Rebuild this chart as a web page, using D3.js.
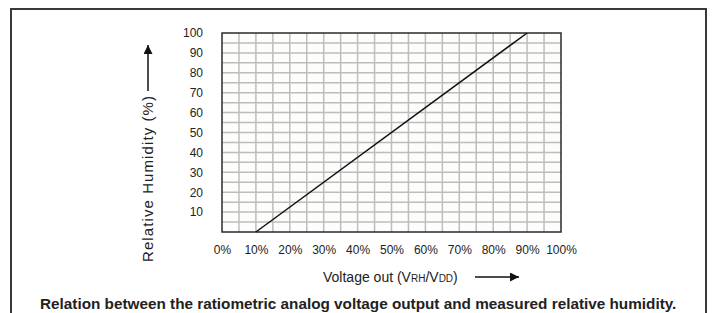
<!DOCTYPE html>
<html>
<head>
<meta charset="utf-8">
<script src="https://cdn.jsdelivr.net/npm/d3@7"></script>
<style>
  body { margin: 0; background: #fff; }
  text { font-family: Arial, "Liberation Sans", sans-serif; fill: #222; }
</style>
</head>
<body>
<div id="chart"></div>
<script>
// chart data
var voltageOut = [10, 90];        // % of VDD
var humidity = [0, 100];          // % RH
var xTickValues = [0, 10, 20, 30, 40, 50, 60, 70, 80, 90, 100];
var yTickValues = [10, 20, 30, 40, 50, 60, 70, 80, 90, 100];
var gridStep = 5;

var W = 712, H = 313;
var plot = {left: 222, top: 33, right: 561, bottom: 232};

var svg = d3.select("#chart")
    .append("svg")
        .attr("width", W)
        .attr("height", H);

// outer frame (open at the bottom)
svg.append("rect")
    .attr("x", 11).attr("y", 9)
    .attr("width", 695).attr("height", 330)
    .attr("fill", "none")
    .attr("stroke", "#3a3a3a")
    .attr("stroke-width", 2);

var xScale = d3.scaleLinear()
    .domain([0, 100])
    .range([plot.left, plot.right]);

var yScale = d3.scaleLinear()
    .domain([0, 100])
    .range([plot.bottom, plot.top]);

// plot background
svg.append("rect")
    .attr("x", plot.left).attr("y", plot.top)
    .attr("width", plot.right - plot.left)
    .attr("height", plot.bottom - plot.top)
    .attr("fill", "#fdfdfb");

// grid lines every 5%
var gridVals = d3.range(gridStep, 100, gridStep);
svg.append("g")
    .selectAll("line")
    .data(gridVals)
    .enter()
    .append("line")
        .attr("x1", d => xScale(d)).attr("x2", d => xScale(d))
        .attr("y1", plot.top).attr("y2", plot.bottom)
        .attr("stroke", "#bdbdbd")
        .attr("stroke-width", 1.5);
svg.append("g")
    .selectAll("line")
    .data(gridVals)
    .enter()
    .append("line")
        .attr("y1", d => yScale(d)).attr("y2", d => yScale(d))
        .attr("x1", plot.left).attr("x2", plot.right)
        .attr("stroke", "#bdbdbd")
        .attr("stroke-width", 1.5);

// plot border
svg.append("rect")
    .attr("x", plot.left).attr("y", plot.top)
    .attr("width", plot.right - plot.left)
    .attr("height", plot.bottom - plot.top)
    .attr("fill", "none")
    .attr("stroke", "#2a2a2a")
    .attr("stroke-width", 1.5);

// axes (labels only)
var xAxis = svg.append("g")
    .attr("transform", "translate(0," + (plot.bottom + 10) + ")")
    .call(d3.axisBottom(xScale).tickValues(xTickValues).tickSize(0).tickFormat(d => d + "%"));
var yAxis = svg.append("g")
    .attr("transform", "translate(" + (plot.left - 19) + ",0)")
    .call(d3.axisLeft(yScale).tickValues(yTickValues).tickSize(0));
[xAxis, yAxis].forEach(function(ax) {
  ax.select(".domain").remove();
  ax.selectAll("text")
      .attr("font-family", "Arial, 'Liberation Sans', sans-serif")
      .attr("font-size", "12px")
      .attr("fill", "#222");
});
yAxis.selectAll("text").attr("x", 0);

// response line
var line = d3.line()
    .x((d, i) => xScale(voltageOut[i]))
    .y(d => yScale(d));
svg.append("path")
    .datum(humidity)
    .attr("d", line)
    .attr("fill", "none")
    .attr("stroke", "#111")
    .attr("stroke-width", 1.5);

// arrow marker
svg.append("defs").append("marker")
    .attr("id", "arrow")
    .attr("viewBox", "0 0 10 10")
    .attr("refX", 10).attr("refY", 5)
    .attr("markerWidth", 10).attr("markerHeight", 9)
    .attr("markerUnits", "userSpaceOnUse")
    .attr("orient", "auto")
  .append("path")
    .attr("d", "M0,0L10,5L0,10Z")
    .attr("fill", "#111");

// y axis title + arrow
svg.append("text")
    .attr("transform", "translate(153,179) rotate(-90)")
    .attr("text-anchor", "middle")
    .attr("font-size", "15px")
    .attr("textLength", 166)
    .text("Relative Humidity (%)");
svg.append("line")
    .attr("x1", 148).attr("x2", 148)
    .attr("y1", 91).attr("y2", 45)
    .attr("stroke", "#111")
    .attr("stroke-width", 1.5)
    .attr("marker-end", "url(#arrow)");

// x axis title + arrow
var xt = svg.append("text")
    .attr("x", 323).attr("y", 282)
    .attr("font-size", "14px");
xt.append("tspan").text("Voltage out (V");
xt.append("tspan").attr("font-size", "10px").text("RH");
xt.append("tspan").text("/V");
xt.append("tspan").attr("font-size", "10px").text("DD");
xt.append("tspan").text(")");
svg.append("line")
    .attr("x1", 475).attr("x2", 519)
    .attr("y1", 277).attr("y2", 277)
    .attr("stroke", "#111")
    .attr("stroke-width", 1.5)
    .attr("marker-end", "url(#arrow)");

// caption
svg.append("text")
    .attr("x", 40).attr("y", 309)
    .attr("font-size", "15.3px")
    .attr("font-weight", "bold")
    .text("Relation between the ratiometric analog voltage output and measured relative humidity.");
</script>
</body>
</html>
